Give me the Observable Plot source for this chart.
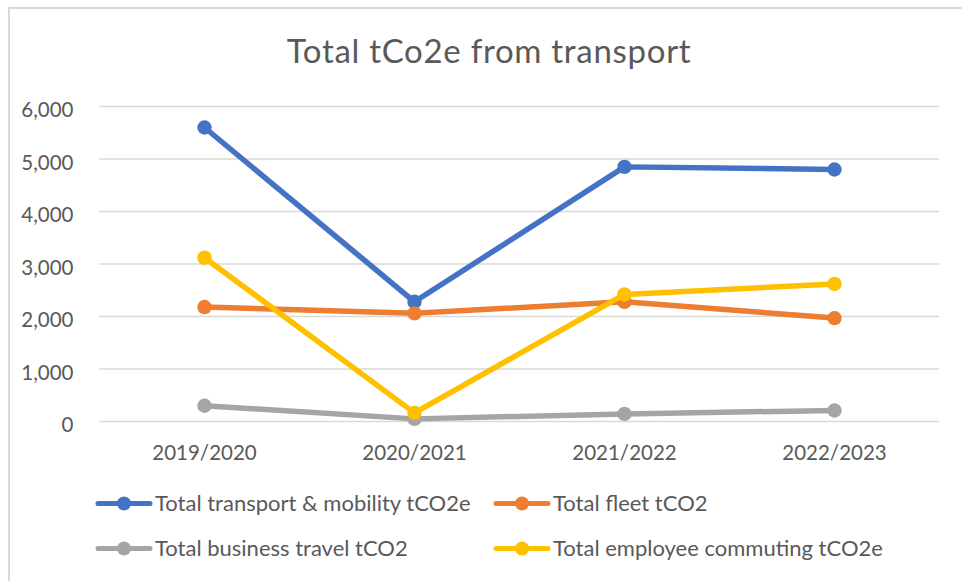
<!DOCTYPE html>
<html><head><meta charset="utf-8">
<script src="https://cdn.jsdelivr.net/npm/d3@7"></script>
<script src="https://cdn.jsdelivr.net/npm/@observablehq/plot@0.6"></script>
<style>
html,body{margin:0;padding:0;background:#fff;}
#frame{position:relative;width:962px;height:581px;overflow:hidden;font-family:Lato,sans-serif;color:#595959;background:#fff;}
#border{position:absolute;left:8px;top:7px;width:1200px;height:800px;border-left:2px solid #d9d9d9;border-top:2px solid #d9d9d9;}
#title{position:absolute;left:0;width:978px;top:34px;text-align:center;font-size:33px;letter-spacing:0.7px;line-height:1;white-space:nowrap;}
#chart{position:absolute;left:0;top:0;}
.item{position:absolute;height:20px;}
.item svg{position:absolute;left:0;top:0;}
.item span{position:absolute;left:60px;top:-6px;font-size:22px;line-height:26px;white-space:nowrap;}
</style></head><body>
<div id="frame"><div id="border"></div><div id="title">Total tCo2e from transport</div><div id="chart"></div><div id="legend"></div></div>
<script>
const years = ["2019/2020", "2020/2021", "2021/2022", "2022/2023"];
const seriesNames = ["Total transport & mobility tCO2e", "Total fleet tCO2", "Total business travel tCO2", "Total employee commuting tCO2e"];
const transport = [5600, 2280, 4850, 4800];
const fleet = [2180, 2060, 2280, 1970];
const business = [300, 50, 145, 210];
const commuting = [3120, 165, 2420, 2620];
const colors = ["#4472C4", "#ED7D31", "#A5A5A5", "#FFC000"];
const yTicks = [0, 1000, 2000, 3000, 4000, 5000, 6000];

const seriesValues = [transport, fleet, business, commuting];
const rows = seriesNames.flatMap((s, i) => years.map((y, j) => ({year: y, series: s, value: seriesValues[i][j]})));

const marks = [
  Plot.ruleY(yTicks, {stroke: "#d9d9d9", strokeWidth: 1.4}),
  Plot.axisY(yTicks, {tickSize: 0, tickPadding: 26, tickFormat: d3.format(","), fontSize: 20.5, dy: 4, label: null}),
  Plot.axisX({tickSize: 0, tickPadding: 24, fontSize: 20.5, label: null})
];
seriesNames.forEach((s, i) => {
  const d = rows.filter(r => r.series === s);
  marks.push(Plot.line(d, {x: "year", y: "value", stroke: colors[i], strokeWidth: 5.5, strokeLinejoin: "round", strokeLinecap: "round"}));
  marks.push(Plot.dot(d, {x: "year", y: "value", fill: colors[i], r: 7.2}));
});

const chart = Plot.plot({
  width: 962,
  height: 480,
  marginLeft: 99,
  marginRight: 23,
  marginTop: 106,
  marginBottom: 59,
  x: {type: "point", domain: years, padding: 0.5, axis: null},
  y: {domain: [0, 6000], axis: null},
  style: {color: "#595959", fontFamily: "Lato, sans-serif", background: "transparent", overflow: "visible"},
  marks
});
document.getElementById("chart").appendChild(chart);

// legend
const legendPos = [[95, 496], [493, 496], [95, 541], [493, 541]];
const legend = document.getElementById("legend");
seriesNames.forEach((s, i) => {
  const div = document.createElement("div");
  div.className = "item";
  div.style.left = legendPos[i][0] + "px";
  div.style.top = legendPos[i][1] + "px";
  div.innerHTML = `<svg width="58" height="16"><line x1="3" x2="55" y1="7.5" y2="7.5" stroke="${colors[i]}" stroke-width="5" stroke-linecap="round"/><circle cx="29" cy="7.5" r="7" fill="${colors[i]}"/></svg><span>${s.replace("&", "&amp;")}</span>`;
  legend.appendChild(div);
});
</script>
</body></html>
